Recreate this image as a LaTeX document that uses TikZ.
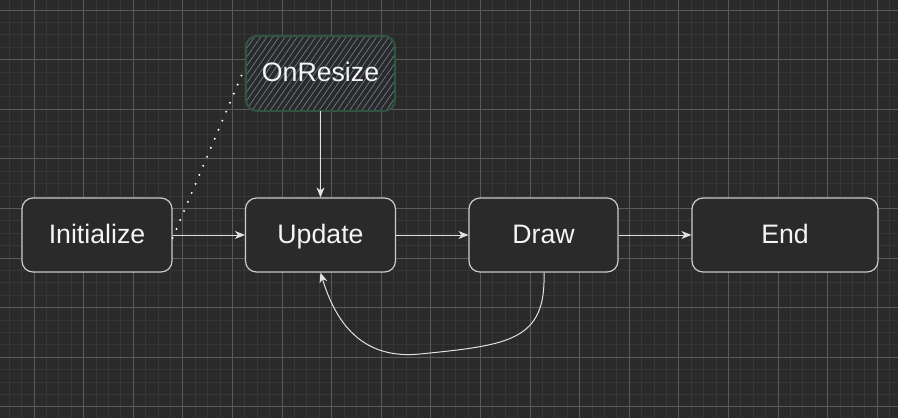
\documentclass[tikz,border=0pt]{standalone}
\usepackage{fontspec}
\setmainfont{Liberation Sans}
\usetikzlibrary{arrows.meta,patterns.meta}
\definecolor{bgc}{HTML}{2A2A2A}
\definecolor{minorc}{HTML}{363636}
\definecolor{majorc}{HTML}{5A5A5A}
\definecolor{boxline}{HTML}{CBCBCB}
\definecolor{wirec}{HTML}{E2E2E2}
\definecolor{txtc}{HTML}{F4F4F4}
\definecolor{greenb}{HTML}{2F5442}
\definecolor{hatchc}{HTML}{6C7C8E}
\tikzset{
  statebox/.style={draw=boxline, line width=1.2bp, fill=bgc, rounded corners=11bp,
    minimum height=74bp, inner sep=0pt, text=txtc, text height=19bp, text depth=3bp,
    font=\fontsize{26.8}{30}\selectfont},
  hatchbox/.style={draw=greenb, line width=2bp, rounded corners=11bp,
    preaction={fill=bgc},
    pattern={Lines[angle=55,distance=5bp,line width=0.7bp]}, pattern color=hatchc,
    minimum height=75bp, minimum width=149bp, inner sep=0pt, text=txtc,
    text height=19bp, text depth=3bp,
    font=\fontsize{26.8}{30}\selectfont},
  wire/.style={draw=wirec, line width=1bp, -{Stealth[length=10bp,width=8bp,inset=3bp]}},
  dotwire/.style={draw=white, line width=2.2bp, line cap=round, dash pattern=on 0bp off 9.8bp}
}
\begin{document}
\begin{tikzpicture}[x=1bp,y=-1bp]
\useasboundingbox (0,0) rectangle (898,418);
\fill[bgc] (0,0) rectangle (898,418);
% minor grid
\foreach \i in {0,...,73} {
  \draw[minorc, line width=1bp] ({-3.2+12.4*\i},0) -- ({-3.2+12.4*\i},418);
}
\foreach \j in {0,...,34} {
  \draw[minorc, line width=1bp] (0,{-2.4+12.4*\j}) -- (898,{-2.4+12.4*\j});
}
% major grid
\foreach \i in {0,...,18} {
  \draw[majorc, line width=1bp] ({34+49.6*\i},0) -- ({34+49.6*\i},418);
}
\foreach \j in {0,...,8} {
  \draw[majorc, line width=1bp] (0,{10+49.6*\j}) -- (898,{10+49.6*\j});
}
% nodes
\node[statebox, minimum width=150bp] (init) at (97,235) {Initialize};
\node[statebox, minimum width=150bp] (upd) at (320.5,235) {Update};
\node[statebox, minimum width=149bp] (drw) at (543.5,235) {Draw};
\node[statebox, minimum width=186bp] (fin) at (785,235) {End};
\node[hatchbox] (onr) at (320.5,73.5) {OnResize};
% connectors
\draw[wire] (init) -- (upd);
\draw[wire] (upd) -- (drw);
\draw[wire] (drw) -- (fin);
\draw[wire] (onr) -- (upd);
\coordinate (dstart) at ([xshift=0.5bp]drw.south);
\coordinate (uend) at (upd.south);
\draw[wire] (dstart) .. controls +(2,68) and (510,345) .. (420,354)
  .. controls (360,360) and (335,320) .. (uend);
\draw[dotwire] ([yshift=-3bp]init.east) -- ([xshift=-2bp,yshift=3bp]onr.west);
\end{tikzpicture}
\end{document}
